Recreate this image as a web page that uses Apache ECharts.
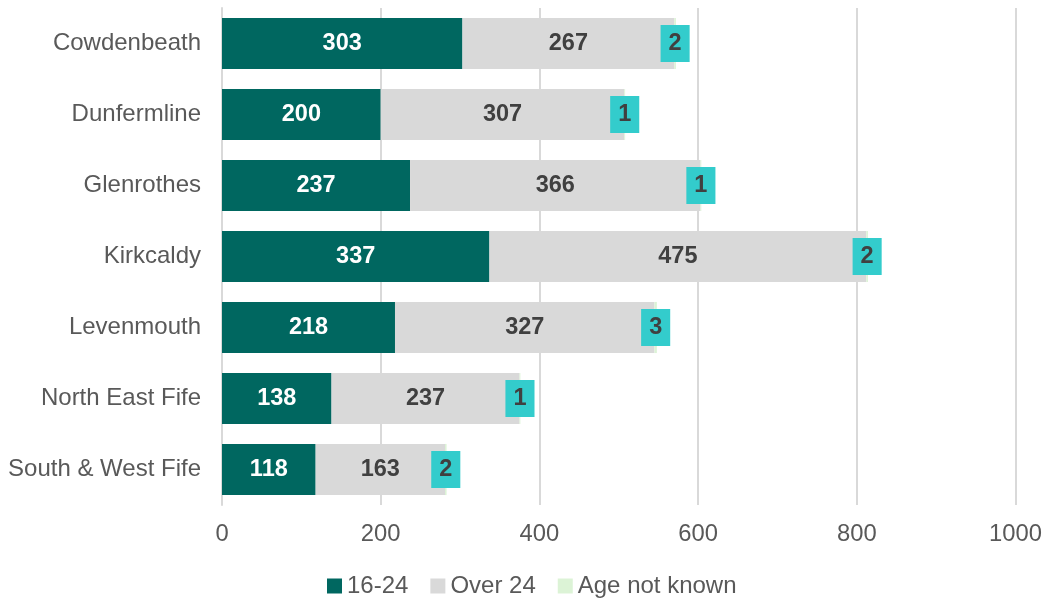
<!DOCTYPE html>
<html>
<head>
<meta charset="utf-8">
<script src="https://cdn.jsdelivr.net/npm/echarts@6/dist/echarts.min.js"></script>
<style>
  html, body { margin: 0; padding: 0; background: #fff; }
  #chart { width: 1045px; height: 598px; }
</style>
</head>
<body>
<div id="chart"></div>
<script>
// 数据
const areas = ['Cowdenbeath', 'Dunfermline', 'Glenrothes', 'Kirkcaldy', 'Levenmouth', 'North East Fife', 'South & West Fife'];
const young = [303, 200, 237, 337, 218, 138, 118];
const over24 = [267, 307, 366, 475, 327, 237, 163];
const unknown = [2, 1, 1, 2, 3, 1, 2];
const xTicks = [0, 200, 400, 600, 800, 1000];

const chart = echarts.init(document.getElementById('chart'));

const FONT = 'Liberation Sans, Arial, sans-serif';
const labelBase = {
    show: true,
    position: 'inside',
    fontFamily: FONT,
    fontSize: 23.5,
    fontWeight: 'bold'
};

const option = {
    animation: false,
    textStyle: { fontFamily: FONT },
    grid: { left: 222, right: 29, top: 8, bottom: 93 },
    legend: {
        bottom: 0,
        left: 327,
        padding: 0,
        itemWidth: 15,
        itemHeight: 15,
        itemGap: 22,
        icon: 'rect',
        textStyle: { color: '#595959', fontSize: 24 },
        data: ['16-24', 'Over 24', 'Age not known']
    },
    xAxis: {
        type: 'value',
        min: xTicks[0],
        max: xTicks[xTicks.length - 1],
        interval: 200,
        axisLine: { show: false },
        axisTick: { show: false },
        axisLabel: { color: '#595959', fontSize: 23.8, margin: 17, formatter: v => String(v) },
        splitLine: { lineStyle: { color: '#D9D9D9', width: 2 } }
    },
    yAxis: {
        type: 'category',
        inverse: true,
        data: areas,
        axisLine: { show: true, lineStyle: { color: '#D9D9D9', width: 2 } },
        axisTick: { show: false },
        axisLabel: { color: '#595959', fontSize: 24, margin: 21 }
    },
    series: [
        {
            name: '16-24',
            type: 'bar',
            stack: 'total',
            barCategoryGap: '28%',
            data: young,
            itemStyle: { color: '#006760' },
            label: Object.assign({}, labelBase, { color: '#ffffff' })
        },
        {
            name: 'Over 24',
            type: 'bar',
            stack: 'total',
            data: over24,
            itemStyle: { color: '#D9D9D9' },
            label: Object.assign({}, labelBase, { color: '#404040' })
        },
        {
            name: 'Age not known',
            type: 'bar',
            stack: 'total',
            data: unknown,
            itemStyle: { color: '#DCF3D6' },
            label: Object.assign({}, labelBase, {
                color: '#404040',
                backgroundColor: '#33CCCC',
                padding: [7, 8, 6, 8]
            })
        }
    ]
};

chart.setOption(option);
</script>
</body>
</html>
